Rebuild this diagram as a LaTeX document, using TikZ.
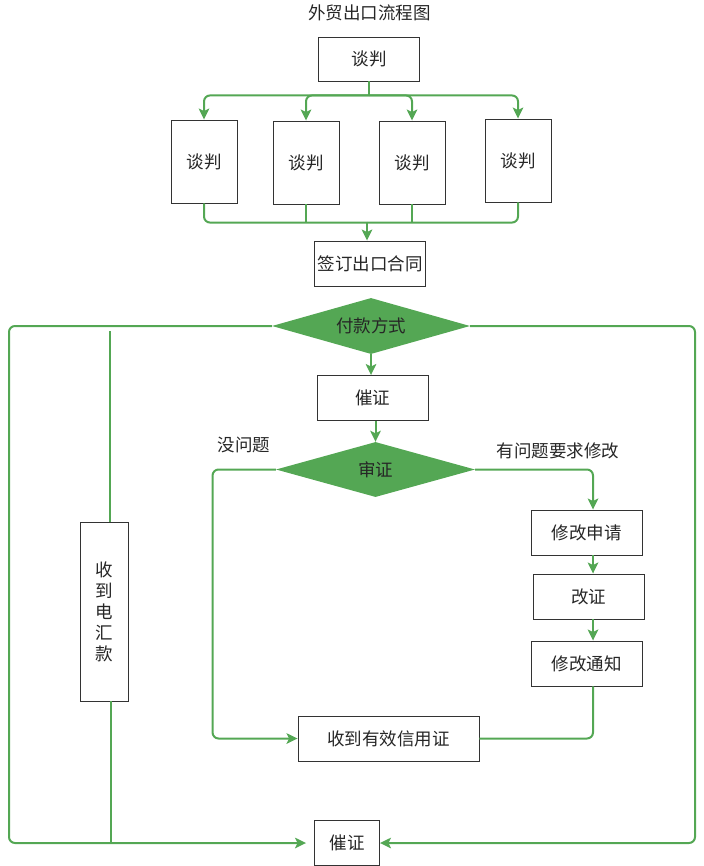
\documentclass[tikz,border=0pt]{standalone}
\usepackage{fontspec}
\newfontfamily\cjk{Noto Sans CJK SC}
\usetikzlibrary{shapes.geometric,arrows.meta,calc}
\definecolor{gr}{RGB}{84,167,84}
\begin{document}
\begin{tikzpicture}[x=1pt,y=-1pt,
  txt/.style={font=\cjk\fontsize{17.5}{21}\selectfont,text=black!85},
  box/.style={txt,draw=black!80,line width=0.9pt,fill=white,inner sep=0pt,align=center},
  dia/.style={txt,diamond,fill=gr,draw=none,inner sep=0pt,aspect=3.5},
  gline/.style={draw=gr,line width=2pt,rounded corners=6pt},
  arr/.style={gline,-{Stealth[length=11pt,width=10.5pt,inset=2.5pt]}}]
\useasboundingbox (0,0) rectangle (703,866);

\node[txt] (title) at (369.5,13) {外贸出口流程图};
\node[box,minimum width=101,minimum height=44] (topbox) at (369,59) {谈判};
\node[box,minimum width=66,minimum height=83] (n1) at (204,161.5) {谈判};
\node[box,minimum width=66,minimum height=83] (n2) at (306,162.5) {谈判};
\node[box,minimum width=66,minimum height=83] (n3) at (412,162.5) {谈判};
\node[box,minimum width=66,minimum height=83] (n4) at (518,160.5) {谈判};
\node[box,minimum width=111,minimum height=45] (sign) at (370,263.5) {签订出口合同};
\node[dia,minimum width=198,minimum height=56] (pay) at (371,326) {付款方式};
\node[box,minimum width=111,minimum height=45] (cz1) at (372.5,398) {催证};
\node[dia,minimum width=199,minimum height=55] (shen) at (375.5,469.5) {审证};
\node[box,minimum width=111,minimum height=45] (xg1) at (586.5,532.5) {修改申请};
\node[box,minimum width=111,minimum height=45] (gz) at (588.5,596.5) {改证};
\node[box,minimum width=111,minimum height=45] (xg3) at (586.5,663.5) {修改通知};
\node[box,minimum width=181,minimum height=45] (sx) at (388.5,738.5) {收到有效信用证};
\node[box,minimum width=65,minimum height=45] (cz2) at (347,843) {催证};
\node[box,minimum width=48,minimum height=179] (hui) at (104,611.5) {收\\到\\电\\汇\\款};
\node[txt] (l1) at (244,445) {没问题};
\node[txt] (l2) at (558,451) {有问题要求修改};

% top branching
\coordinate (br) at ($(topbox.south)+(0,14)$);
\draw[gline] (topbox.south) -- (br);
\draw[arr] (br) -| (n1.north);
\draw[arr] (br) -| (n2.north);
\draw[arr] (br) -| (n3.north);
\draw[arr] (br) -| (n4.north);

% merge
\coordinate (mg) at ($(sign.north)+(-3,-18)$);
\draw[gline] (n1.south) |- (mg);
\draw[gline] (n4.south) |- (mg);
\draw[gline] (n2.south) -- (n2.south |- mg);
\draw[gline] (n3.south) -- (n3.south |- mg);
\draw[arr] (mg) -- (mg |- sign.north);

% payment
\coordinate (L) at (9,843);
\coordinate (R) at (695,843);
\draw[arr] (pay.south) -- (pay.south |- cz1.north);
\draw[arr,shorten >=8pt] (pay.west) -| (L) -- (cz2.west);
\draw[arr] (pay.east) -| (R) -- (cz2.east);
\draw[gline] ($(hui.north)+(6,0)$) -- ($(hui.north |- pay.west)+(6,5)$);
\draw[gline] ($(hui.south)+(7,0)$) -- ($(hui.south |- L)+(7,0)$);

% L/C check
\coordinate (cx) at (593,0);
\draw[arr] (shen.north |- cz1.south) -- (shen.north);
\draw[arr] (shen.west) -| ($(sx.west)+(-85,0)$) -- (sx.west);
\draw[arr] (shen.east) -| (xg1.north -| cx);
\draw[arr] (xg1.south -| cx) -- (gz.north -| cx);
\draw[arr] (gz.south -| cx) -- (xg3.north -| cx);
\draw[gline] (xg3.south -| cx) |- (sx.east);
\end{tikzpicture}
\end{document}
